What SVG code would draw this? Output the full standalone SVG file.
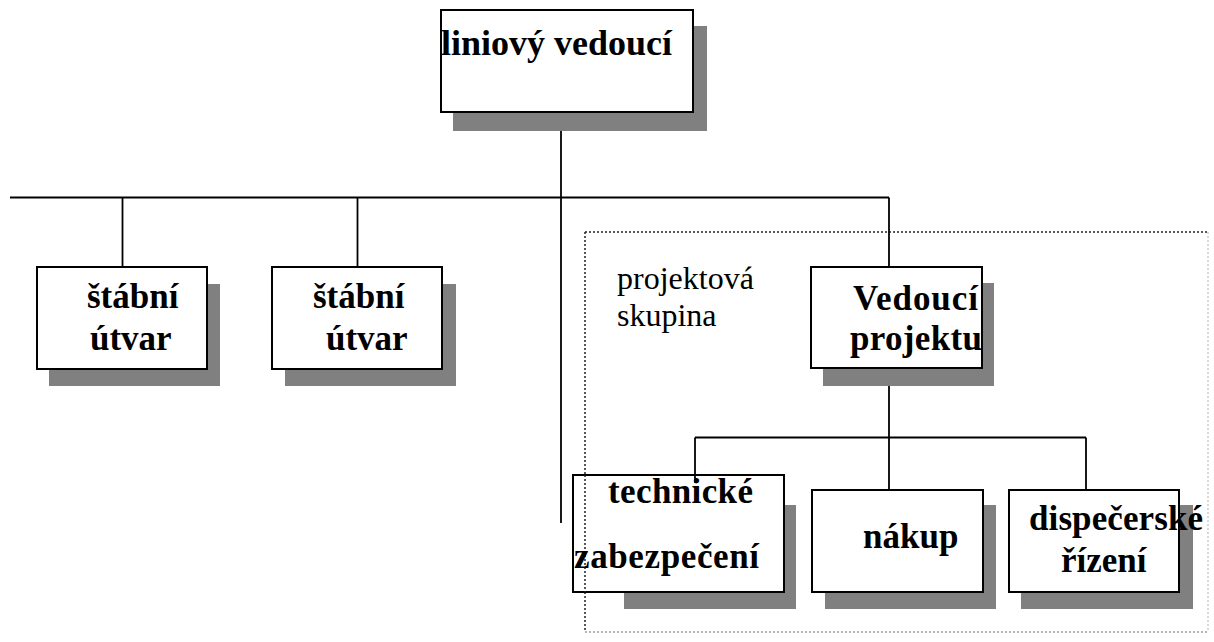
<svg xmlns="http://www.w3.org/2000/svg" width="1214" height="642" viewBox="0 0 1214 642">
<style>
.box{fill:#fff;stroke:#000;stroke-width:2}
.sh{fill:#808080}
.ln{stroke:#000;stroke-width:1.8;fill:none}
.t{font-family:"Liberation Serif","Times New Roman",serif;font-weight:bold;font-size:35px;fill:#000}
.r{font-family:"Liberation Serif","Times New Roman",serif;font-size:32px;fill:#000}
.dot{stroke:#222;stroke-width:1.5;stroke-dasharray:2 2;fill:none}
.dotl{stroke:#ccc;stroke-width:1.5;stroke-dasharray:2 2;fill:none}
</style>
<rect width="1214" height="642" fill="#fff"/>
<g id="group-projektova-skupina">
<line class="dot" x1="585" y1="232" x2="1208" y2="232"/>
<line class="dot" x1="585" y1="232" x2="585" y2="632"/>
<line class="dotl" x1="585" y1="632" x2="1208" y2="632" style="stroke:#999"/>
<line class="dotl" x1="1208" y1="232" x2="1208" y2="632"/>
<text class="r" x="617" y="289">projektová</text>
<text class="r" x="617" y="326">skupina</text>
</g>
<g id="connectors">
<line class="ln" x1="561" y1="112" x2="561" y2="523"/>
<line class="ln" x1="10" y1="197.5" x2="889" y2="197.5"/>
<line class="ln" x1="122.5" y1="197.5" x2="122.5" y2="267"/>
<line class="ln" x1="357.5" y1="197.5" x2="357.5" y2="267"/>
<line class="ln" x1="889" y1="197.5" x2="889" y2="267"/>
<line class="ln" x1="889" y1="368" x2="889" y2="490"/>
<line class="ln" x1="695" y1="437.5" x2="1086" y2="437.5"/>
<line class="ln" x1="1086" y1="437.5" x2="1086" y2="490"/>
</g>
<g id="node-liniovy-vedouci">
<rect class="sh" x="453" y="26" width="254" height="105"/>
<rect class="box" x="441" y="10" width="252" height="102"/>
<text class="t" x="441" y="55" textLength="231" lengthAdjust="spacingAndGlyphs">liniový vedoucí</text>
</g>
<g id="node-stabni-1">
<rect class="sh" x="49" y="284" width="171" height="102"/>
<rect class="box" x="37" y="267" width="170" height="102"/>
<text class="t" x="87" y="308">štábní</text>
<text class="t" x="90" y="350">útvar</text>
</g>
<g id="node-stabni-2">
<rect class="sh" x="285" y="284" width="171" height="102"/>
<rect class="box" x="272" y="267" width="170" height="102"/>
<text class="t" x="313" y="308">štábní</text>
<text class="t" x="326" y="350">útvar</text>
</g>
<g id="node-vedouci-projektu">
<rect class="sh" x="823" y="283" width="171" height="103"/>
<rect class="box" x="811" y="267" width="171" height="101"/>
<text class="t" x="853" y="310" textLength="125" lengthAdjust="spacing">Vedoucí</text>
<text class="t" x="850" y="350" textLength="132" lengthAdjust="spacing">projektu</text>
</g>
<g id="node-technicke">
<rect class="sh" x="624" y="505" width="172" height="104"/>
<rect class="box" x="573" y="475" width="211" height="117"/>
<line class="ln" x1="695" y1="437.5" x2="695" y2="483"/>
<line class="dot" x1="585" y1="475" x2="585" y2="592"/>
<text class="t" x="608" y="503" textLength="145" lengthAdjust="spacing">technické</text>
<text class="t" x="574" y="568" textLength="185" lengthAdjust="spacing">zabezpečení</text>
</g>
<g id="node-nakup">
<rect class="sh" x="825" y="505" width="171" height="104"/>
<rect class="box" x="812" y="490" width="171" height="102"/>
<text class="t" x="863" y="548">nákup</text>
</g>
<g id="node-dispecerske">
<rect class="sh" x="1021" y="505" width="172" height="104"/>
<rect class="box" x="1009" y="490" width="170" height="102"/>
<text class="t" x="1029" y="530" textLength="174" lengthAdjust="spacing">dispečerské</text>
<text class="t" x="1061" y="572">řízení</text>
</g>
</svg>
